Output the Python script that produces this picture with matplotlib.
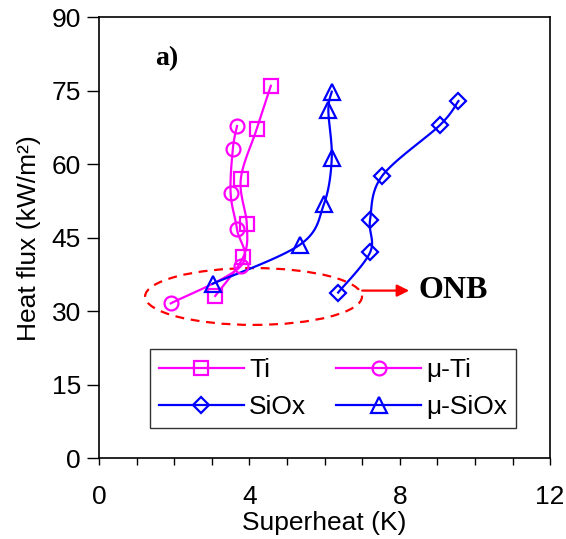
import numpy as np
import matplotlib
matplotlib.use("Agg")
import matplotlib.pyplot as plt
from matplotlib.patches import Ellipse
from matplotlib.ticker import MultipleLocator

# ---- data ----
ti_x = [3.09, 3.84, 3.93, 3.77, 4.19, 4.57]
ti_y = [33.1, 41.1, 47.8, 56.9, 67.1, 76.0]

muti_x = [1.91, 3.77, 3.67, 3.50, 3.56, 3.67]
muti_y = [31.6, 39.2, 46.7, 54.1, 63.2, 67.8]

siox_x = [6.36, 7.21, 7.21, 7.53, 9.07, 9.56]
siox_y = [33.8, 42.0, 48.7, 57.6, 68.0, 72.9]

musiox_x = [3.02, 5.35, 5.98, 6.19, 6.10, 6.19]
musiox_y = [35.6, 43.6, 51.8, 61.2, 71.0, 74.8]

labels = ["Ti", "\u03bc-Ti", "SiOx", "\u03bc-SiOx"]
x_ticks = [0, 4, 8, 12]
y_ticks = [0, 15, 30, 45, 60, 75, 90]

plt.rcParams['font.family'] = ['Liberation Sans', 'DejaVu Sans']

def smooth(xs, ys, n=20):
    """Catmull-Rom curve through the points (line rendering only)."""
    sx, sy = 12.0, 90.0
    P = np.column_stack([np.asarray(xs) / sx, np.asarray(ys) / sy])
    P = np.vstack([P[0], P, P[-1]])
    out = []
    for i in range(1, len(P) - 2):
        p0, p1, p2, p3 = P[i - 1], P[i], P[i + 1], P[i + 2]
        t = np.linspace(0, 1, n, endpoint=(i == len(P) - 3))[:, None]
        c = 0.5 * ((2 * p1) + (-p0 + p2) * t + (2 * p0 - 5 * p1 + 4 * p2 - p3) * t ** 2
                   + (-p0 + 3 * p1 - 3 * p2 + p3) * t ** 3)
        out.append(c)
    C = np.vstack(out)
    return C[:, 0] * sx, C[:, 1] * sy

fig = plt.figure(figsize=(5.66, 5.39), dpi=100)
ax = fig.add_axes([0.175, 0.150, 0.797, 0.818])

MAG = '#FF00FF'
BLU = '#0000FF'
series = [
    (ti_x, ti_y, MAG, 's', 10),
    (muti_x, muti_y, MAG, 'o', 10),
    (siox_x, siox_y, BLU, 'D', 8),
    (musiox_x, musiox_y, BLU, '^', 11),
]
handles = []
for (xs, ys, col, mk, ms), lab in zip(series, labels):
    lx, ly = smooth(xs, ys)
    ax.plot(lx, ly, color=col, lw=1.6, zorder=3)
    ax.plot(xs, ys, ls='none', marker=mk, ms=ms, mfc='none', mec=col, mew=1.6, zorder=4)
    h, = ax.plot([], [], color=col, lw=1.6, marker=mk, ms=ms, mfc='none', mec=col, mew=1.6, label=lab)
    handles.append(h)

ell = Ellipse((4.11, 33.0), 5.77, 11.6, fill=False, edgecolor='#FF0000', lw=1.6,
              ls=(0, (4, 3)), zorder=2)
ax.add_patch(ell)
ax.annotate('', xy=(8.25, 34.2), xytext=(7.0, 34.2),
            arrowprops=dict(arrowstyle='-|>', color='#FF0000', lw=1.6, mutation_scale=18,
                            shrinkA=0, shrinkB=0))
ax.text(8.5, 34.2, 'ONB', fontsize=23, fontweight='bold', family='Liberation Serif',
        va='center', ha='left')
ax.text(1.5, 81.5, 'a)', fontsize=20, fontweight='bold', family='Liberation Serif',
        va='center', ha='left')

ax.set_xlim(0, 12)
ax.set_ylim(0, 90)
ax.set_xticks(x_ticks)
ax.set_yticks(y_ticks)
ax.xaxis.set_minor_locator(MultipleLocator(1))
ax.tick_params(axis='x', which='both', direction='out', length=5, width=1, labelsize=19, pad=14)
ax.tick_params(axis='y', which='both', direction='out', length=9, width=1, labelsize=19, pad=4)
for s in ax.spines.values():
    s.set_linewidth(1.2)
ax.set_xlabel('Superheat (K)', fontsize=19, labelpad=2)
ax.set_ylabel('Heat flux (kW/m\u00b2)', fontsize=19, labelpad=8)

order = [0, 2, 1, 3]
leg = ax.legend(handles=[handles[i] for i in order], ncol=2, loc='lower left',
                bbox_to_anchor=(0.113, 0.068),
                fontsize=19, frameon=True, fancybox=False, edgecolor='black',
                handlelength=3.2, handletextpad=0.2, columnspacing=1.15,
                borderpad=0.35, labelspacing=0.5, borderaxespad=0)
leg.get_frame().set_linewidth(1.0)

fig.savefig('out.png', dpi=100)
